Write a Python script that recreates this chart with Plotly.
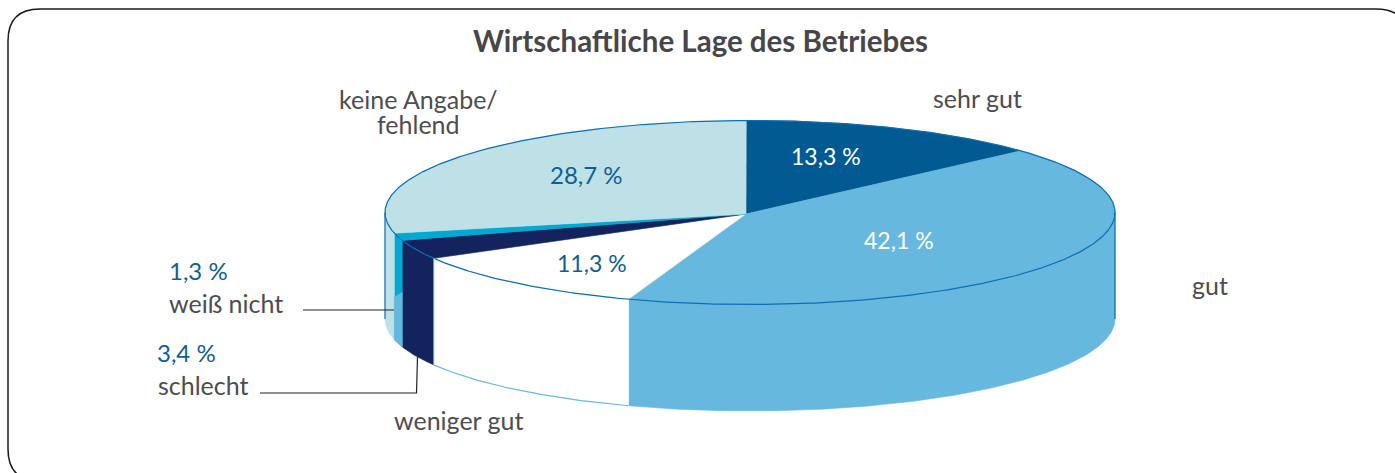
import numpy as np
import plotly.graph_objects as go

categories = ["sehr gut", "gut", "weniger gut", "schlecht", "weiß nicht", "keine Angabe/", "fehlend"]
values = [13.3, 42.1, 11.3, 3.4, 1.3, 28.7]
value_labels = ["13,3 %", "42,1 %", "11,3 %", "3,4 %", "1,3 %", "28,7 %"]
top_colors = ["#025A93", "#66B8DE", "#FFFFFF", "#13235D", "#00A9D4", "#BDE1E6"]

W, H = 1395, 473
CX, CY, A, B, DEPTH = 750, 212.5, 365, 92, 106.5
APEX = (746, 214)
START = -0.6
FONT = "Lato"
GREY = "#4D4D4F"
BLUE = "#0F5F94"
RIM = "#0B6FB5"


def rim(t1, t2, dz=0.0):
    t = np.radians(np.linspace(t1, t2, max(int(abs(t2 - t1) * 2), 2)))
    return CX + A * np.sin(t), CY - B * np.cos(t) + dz


edges = np.cumsum([0] + values) / 100 * 360
edges[0] = START
edges[-1] = 360 + START

fig = go.Figure()


def poly(x, y, color, line=None, name=""):
    fig.add_trace(go.Scatter(x=x, y=y, mode="lines", fill="toself", fillcolor=color,
                             line=dict(color=line or color, width=0.6), hoverinfo="skip", name=name))


# outer walls: only the part of each slice that faces the viewer
for i, val in enumerate(values):
    lo, hi = max(edges[i], 90), min(edges[i + 1], 270)
    if hi <= lo:
        continue
    xt, yt = rim(lo, hi)
    xb, yb = rim(hi, lo, DEPTH)
    poly(np.r_[xt, xb, xt[0]], np.r_[yt, yb, yt[0]], top_colors[i], name=categories[i] + " wall")

# patch of mid blue showing through the lower part of the "weiß nicht" wall
xt, yt = rim(edges[4], edges[4] + 4.6)
d = np.linspace(52, 64, len(xt))
xb, yb = rim(edges[4] + 4.6, edges[4], DEPTH)
poly(np.r_[xt, xb, xt[0]], np.r_[yt + d, yb, yt[0] + d[0]], top_colors[1], name="wall patch")

# top faces
for i, val in enumerate(values):
    x, y = rim(edges[i], edges[i + 1])
    edge = "#BFE3F2" if i == 2 else None
    poly(np.r_[APEX[0], x, APEX[0]], np.r_[APEX[1], y, APEX[1]], top_colors[i], line=edge, name=categories[i])

# outlines
x, y = rim(0, 360)
fig.add_trace(go.Scatter(x=x, y=y, mode="lines", line=dict(color=RIM, width=1.2), hoverinfo="skip"))
x, y = rim(edges[2], edges[3], DEPTH)
fig.add_trace(go.Scatter(x=x, y=y, mode="lines", line=dict(color="#66B8DE", width=1.2), hoverinfo="skip"))
for side in (90, 270):
    xs, ys = rim(side, side)
    fig.add_trace(go.Scatter(x=[xs[0], xs[0]], y=[ys[0], ys[0] + DEPTH], mode="lines",
                             line=dict(color=RIM, width=1.2), hoverinfo="skip"))
xs, ys = rim(edges[3], edges[3])
fig.add_trace(go.Scatter(x=[xs[0] + 0.5, xs[0] + 0.5], y=[ys[0], ys[0] + DEPTH], mode="lines",
                         line=dict(color="#BFE3F2", width=1), hoverinfo="skip"))

shapes = [
    dict(type="path", xref="x", yref="y", line=dict(color="#1A1A1A", width=1.5),
         path="M 40 9 L 1376 9 Q 1408 9 1408 41 L 1408 449 Q 1408 481 1376 481 "
              "L 40 481 Q 8 481 8 449 L 8 41 Q 8 9 40 9 Z"),
    dict(type="path", xref="x", yref="y", line=dict(color="#222222", width=1.2),
         path="M 303 310 L 394 310"),
    dict(type="path", xref="x", yref="y", line=dict(color="#222222", width=1.2),
         path="M 260 393 L 416.5 393 L 417.5 357"),
]


def note(x, y, text, size=25, color=GREY, bold=False, align="center"):
    fig.add_annotation(x=x, y=y, text=f"<b>{text}</b>" if bold else text, showarrow=False,
                       xref="x", yref="y", xanchor=align, yanchor="middle", align=align,
                       font=dict(family=FONT, size=size, color=color))


note(700, 40, "Wirtschaftliche Lage des Betriebes", size=29.5, color="#47474A", bold=True)
note(977, 98, categories[0])
note(1210, 285, categories[1])
note(459, 420, categories[2])
note(156, 384.5, categories[3], align="left")
note(167, 302.5, categories[4], align="left")
note(418, 99, categories[5])
note(418, 124, categories[6])
note(826, 156, value_labels[0], size=23, color="white")
note(899, 240, value_labels[1], size=23, color="white")
note(592, 263, value_labels[2], size=23, color=BLUE)
note(155, 352, value_labels[3], size=24, color=BLUE, align="left")
note(167, 270, value_labels[4], size=24, color=BLUE, align="left")
note(586, 174, value_labels[5], size=24, color=BLUE)

fig.update_layout(
    width=W, height=H, margin=dict(l=0, r=0, t=0, b=0), showlegend=False,
    paper_bgcolor="white", plot_bgcolor="white", shapes=shapes,
    xaxis=dict(range=[0, W], visible=False, fixedrange=True),
    yaxis=dict(range=[H, 0], visible=False, fixedrange=True),
)
fig.write_html("out.html", config=dict(displayModeBar=False),
               post_script="document.body.style.margin='0';document.documentElement.style.overflow='hidden';")
